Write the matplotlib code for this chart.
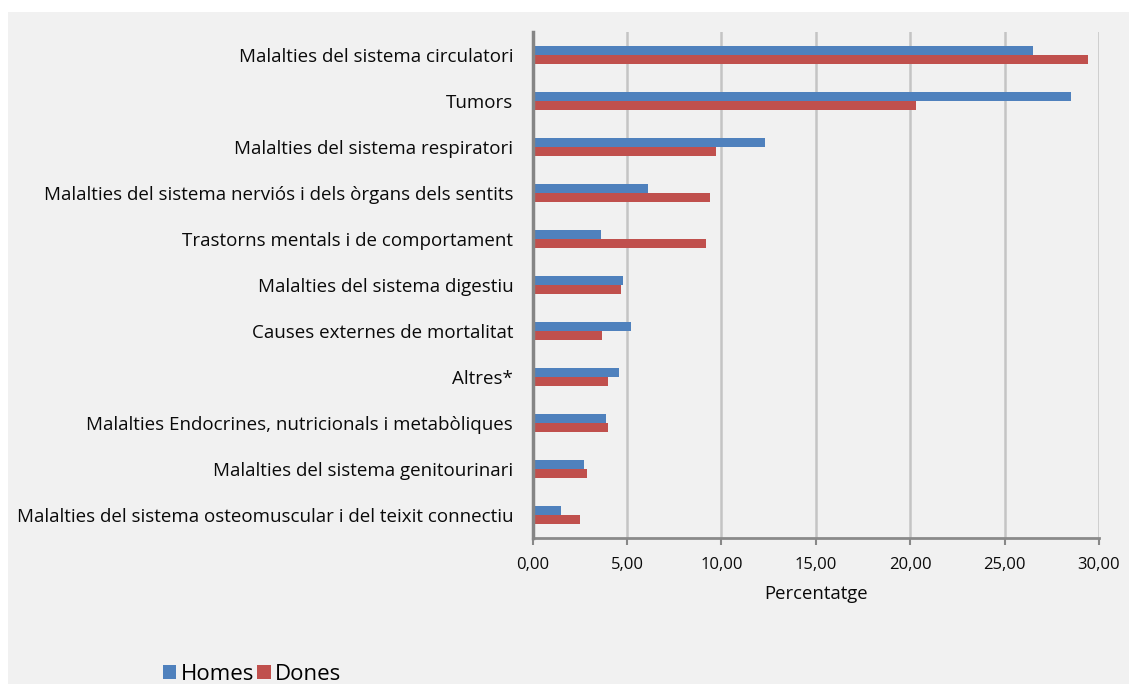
"""
Causes de mortalitat per sexe (percentatge) - barres horitzontals.
"""

import matplotlib
matplotlib.use("Agg")
import matplotlib.pyplot as plt
from matplotlib.patches import Rectangle
from matplotlib.ticker import FuncFormatter, MultipleLocator

# --- Data ---
categories = [
    "Malalties del sistema circulatori",
    "Tumors",
    "Malalties del sistema respiratori",
    "Malalties del sistema nerviós i dels òrgans dels sentits",
    "Trastorns mentals i de comportament",
    "Malalties del sistema digestiu",
    "Causes externes de mortalitat",
    "Altres*",
    "Malalties Endocrines, nutricionals i metabòliques",
    "Malalties del sistema genitourinari",
    "Malalties del sistema osteomuscular i del teixit connectiu",
]
homes = [26.5, 28.5, 12.3, 6.1, 3.6, 4.8, 5.2, 4.6, 3.9, 2.7, 1.5]
dones = [29.4, 20.3, 9.7, 9.4, 9.2, 4.7, 3.7, 4.0, 4.0, 2.9, 2.5]

# --- Style ---
BLUE = "#4f81bd"
RED = "#c0504d"
BG = "#f1f1f1"
TXT = "#0a0a0a"
FONT = ["Open Sans", "DejaVu Sans"]
plt.rcParams["font.family"] = FONT

fig = plt.figure(figsize=(11.29, 6.84), dpi=100)
fig.patch.set_facecolor("white")
# grey panel (white margin on top and left as in the source screenshot)
fig.patches.append(Rectangle((8 / 1129, 0), 1, 1 - 12 / 684, transform=fig.transFigure,
                             facecolor=BG, edgecolor="none", zorder=-10))

ax = fig.add_axes([532.6 / 1129, 1 - 538 / 684, (1099 - 532.6) / 1129, 506 / 684])
ax.set_facecolor(BG)

ypos = list(range(len(categories)))
bar_h = 0.2
ax.barh([y - bar_h / 2 for y in ypos], homes, height=bar_h, color=BLUE, label="Homes", zorder=3)
ax.barh([y + bar_h / 2 for y in ypos], dones, height=bar_h, color=RED, label="Dones", zorder=3)

ax.set_ylim(len(categories) - 0.5, -0.5)
ax.set_xlim(0, 30)
ax.set_yticks(ypos)
ax.set_yticklabels(categories, fontsize=13.5, color=TXT)
ax.tick_params(axis="y", length=0, pad=14)

ax.xaxis.set_major_locator(MultipleLocator(5))
ax.xaxis.set_major_formatter(FuncFormatter(lambda v, p: f"{v:.2f}".replace(".", ",")))
ax.tick_params(axis="x", length=5, width=1.5, color="#888888", labelsize=12,
               labelcolor=TXT, pad=9)
ax.set_xlabel("Percentatge", fontsize=13.3, color=TXT, labelpad=8)

ax.grid(axis="x", color="#c4c4c4", linewidth=1.8, zorder=0)
for s in ["top", "right"]:
    ax.spines[s].set_visible(False)
ax.spines["left"].set_color("#858585")
ax.spines["left"].set_linewidth(2.5)
ax.spines["left"].set_zorder(4)
ax.spines["bottom"].set_color("#8a8a8a")
ax.spines["bottom"].set_linewidth(2)

fig.legend(loc="center left", bbox_to_anchor=(163 / 1129, 1 - 674 / 684), ncol=2,
           frameon=False, fontsize=16, handlelength=0.6, handleheight=0.6,
           handletextpad=0.2, columnspacing=0.15, borderaxespad=0, borderpad=0)

fig.savefig("out.png", dpi=100, facecolor=fig.get_facecolor())
